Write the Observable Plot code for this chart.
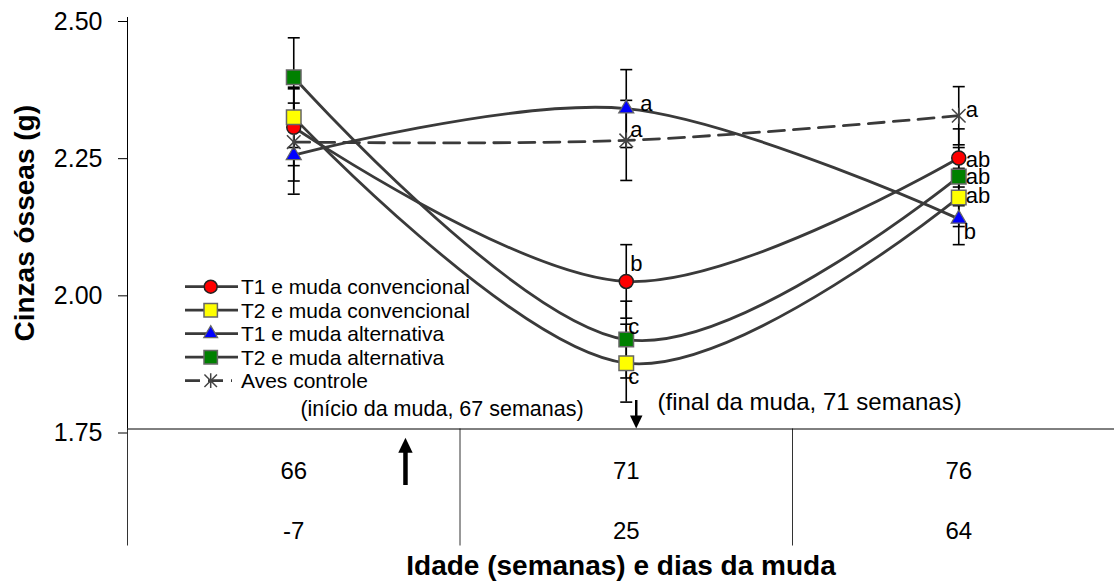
<!DOCTYPE html>
<html><head><meta charset="utf-8">
<script src="https://cdn.jsdelivr.net/npm/d3@7"></script>
<script src="https://cdn.jsdelivr.net/npm/@observablehq/plot@0.6"></script>
<style>
body{margin:0;background:#fff;}
#chart{position:relative;width:1114px;height:583px;}
</style>
</head><body><div id="chart"></div>
<script>
// ---- data ----
const groups = [0, 1, 2];
const weeks = ["66", "71", "76"];
const days = ["-7", "25", "64"];
const seriesNames = ["T1 e muda convencional", "T2 e muda convencional", "T1 e muda alternativa", "T2 e muda alternativa", "Aves controle"];
const t1conv   = [2.300, 2.019, 2.244];
const t2conv   = [2.318, 1.870, 2.172];
const t1alt    = [2.249, 2.334, 2.133];
const t2alt    = [2.391, 1.913, 2.210];
const controle = [2.273, 2.276, 2.321];
const errT1conv   = [0.070, 0.067, 0.053];
const errT2conv   = [0.055, 0.071, 0.053];
const errT1alt    = [0.071, 0.071, 0.047];
const errT2alt    = [0.072, 0.070, 0.053];
const errControle = [0.071, 0.073, 0.053];
const lettersT1conv   = ["", "b", "ab"];
const lettersT2conv   = ["", "c", "ab"];
const lettersT1alt    = ["", "a", "b"];
const lettersT2alt    = ["", "c", "ab"];
const lettersControle = ["", "a", "a"];
const yTicks = [1.75, 2.00, 2.25, 2.50];
const yLabel = "Cinzas ósseas (g)";
const xLabel = "Idade (semanas) e dias da muda";
const noteStart = "(início da muda, 67 semanas)";
const noteEnd = "(final da muda, 71 semanas)";

// ---- layout / style ----
const FONT = "'Liberation Sans', Arial, Helvetica, sans-serif";
const LINE = "#3a3a3a";
const starSymbol = {draw(ctx, size) { const r = Math.sqrt(size / Math.PI), d = r * 0.85;
  ctx.moveTo(-d, -d); ctx.lineTo(d, d); ctx.moveTo(-d, d); ctx.lineTo(d, -d); ctx.moveTo(0, -r); ctx.lineTo(0, r); }};
const capSymbol = {draw(ctx, size) { const r = Math.sqrt(size / Math.PI); ctx.moveTo(-r, 0); ctx.lineTo(r, 0); }};
const headSymbol = {draw(ctx, size) { const r = Math.sqrt(size / Math.PI);
  ctx.moveTo(0, 0); ctx.lineTo(-r * 0.48, -r); ctx.lineTo(r * 0.48, -r); ctx.closePath(); }};

const seriesDefs = [
  {name: seriesNames[0], vals: t1conv, err: errT1conv, letters: lettersT1conv, symbol: "circle", r: 7, fill: "#ff0000", stroke: "#222", sw: 1.5},
  {name: seriesNames[1], vals: t2conv, err: errT2conv, letters: lettersT2conv, symbol: "square", r: 8.2, fill: "#ffff00", stroke: "#666", sw: 1.5},
  {name: seriesNames[2], vals: t1alt, err: errT1alt, letters: lettersT1alt, symbol: "triangle", r: 5.6, fill: "#0000ff", stroke: "#666", sw: 1.2},
  {name: seriesNames[3], vals: t2alt, err: errT2alt, letters: lettersT2alt, symbol: "square", r: 8.2, fill: "#008000", stroke: "#666", sw: 1.5},
  {name: seriesNames[4], vals: controle, err: errControle, letters: lettersControle, symbol: starSymbol, r: 8, fill: "none", stroke: "#444", sw: 1.5, dashed: true}
];
// letter offsets [series][group] in px (dx, dy to baseline)
const letterOffsets = [
  [null, [4, -10.7], [7, 9.4]],
  [null, [2, 21.3], [7, 6]],
  [null, [14, 2.7], [5, 20]],
  [null, [2, -5.7], [7, 7.3]],
  [null, [4, -3.3], [7, 1.7]]
];
// annotation anchors (data units)
const noteStartPos = {x: 0.02, y: 1.7855};
const noteEndPos = {x: 1.094, y: 1.798};
const arrowDown = {x: 1.03, y1: 1.802, y2: 1.751};
const arrowUp = {x: 0.336, y1: 1.647, y2: 1.734};

const rows = [];
seriesDefs.forEach((s, si) => groups.forEach(g => rows.push({series: s.name, si, x: g, y: s.vals[g], err: s.err[g]})));
const caps = rows.flatMap(d => [{x: d.x, y: d.y - d.err}, {x: d.x, y: d.y + d.err}]);

const letterMarks = [];
seriesDefs.forEach((s, si) => groups.forEach(g => {
  if (!s.letters[g]) return;
  const [dx, dy] = letterOffsets[si][g];
  letterMarks.push(Plot.text([{x: g, y: s.vals[g], t: s.letters[g]}], {
    x: "x", y: "y", text: "t", dx, dy, textAnchor: "start", lineAnchor: "bottom", fontSize: 22, fill: "#000"
  }));
}));

const chart = Plot.plot({
  width: 1114, height: 583,
  marginTop: 17, marginBottom: 154.5, marginLeft: 127, marginRight: 0,
  x: {domain: [-0.5, 2.5], range: [127, 1124.5]},
  y: {domain: [1.75, 2.5]},
  style: {fontFamily: FONT, background: "#fff", color: "#000", overflow: "visible"},
  marks: [
    Plot.axisY({ticks: yTicks, tickFormat: d3.format(".2f"), tickSize: 9, tickPadding: 16, fontSize: 25, dy: 4, label: null}),
    Plot.axisX({ticks: [-0.5, 0.5, 1.5], tickSize: 117, tickFormat: () => "", label: null, stroke: "#333"}),
    Plot.axisX({ticks: groups, tickSize: 0, tickPadding: 33, tickFormat: i => weeks[i], fontSize: 24, label: null}),
    Plot.axisX({ticks: groups, tickSize: 0, tickPadding: 93, tickFormat: i => days[i], fontSize: 24, label: null}),
    Plot.ruleX([-0.5], {stroke: "#000", strokeWidth: 1}),
    Plot.ruleY([1.75], {stroke: "#000", strokeWidth: 1}),
    Plot.text([yLabel], {frameAnchor: "left", dx: -102, rotate: -90, fontSize: 28, fontWeight: "bold", textAnchor: "middle", fill: "#000"}),
    Plot.text([xLabel], {frameAnchor: "bottom", lineAnchor: "bottom", dy: 146, fontSize: 28, fontWeight: "bold", textAnchor: "middle", fill: "#000"}),
    // error bars
    Plot.ruleX(rows, {x: "x", y1: d => d.y - d.err, y2: d => d.y + d.err, stroke: "#000", strokeWidth: 1.6}),
    Plot.dot(caps, {x: "x", y: "y", symbol: capSymbol, r: 6, stroke: "#000", strokeWidth: 1.6, fill: "none"}),
    // lines
    Plot.line(rows.filter(d => !seriesDefs[d.si].dashed), {x: "x", y: "y", z: "series", curve: "cardinal", stroke: LINE, strokeWidth: 2.8}),
    Plot.line(rows.filter(d => seriesDefs[d.si].dashed), {x: "x", y: "y", z: "series", curve: "cardinal", stroke: LINE, strokeWidth: 2.8, strokeDasharray: "16,9"}),
    // markers
    ...seriesDefs.map((s, si) => Plot.dot(rows.filter(d => d.si === si), {
      x: "x", y: "y", symbol: s.symbol, r: s.r, fill: s.fill, stroke: s.stroke, strokeWidth: s.sw
    })),
    ...letterMarks,
    // annotations
    Plot.text([noteStartPos], {x: "x", y: "y", text: () => noteStart, textAnchor: "start", fontSize: 21.5, fill: "#000"}),
    Plot.text([noteEndPos], {x: "x", y: "y", text: () => noteEnd, textAnchor: "start", fontSize: 24, fill: "#000"}),
    Plot.ruleX([arrowDown], {x: "x", y1: "y1", y2: d => d.y2 + 0.015, stroke: "#000", strokeWidth: 2.5}),
    Plot.dot([arrowDown], {x: "x", y: "y2", symbol: headSymbol, r: 13, fill: "#000", stroke: "none"}),
    Plot.ruleX([arrowUp], {x: "x", y1: "y1", y2: d => d.y2 - 0.02, stroke: "#000", strokeWidth: 4.5}),
    Plot.dot([arrowUp], {x: "x", y: "y2", symbol: headSymbol, r: 15, rotate: 180, fill: "#000", stroke: "none"})
  ]
});

// legend (inside plot area)
const svg = d3.select(chart);
const lg = svg.append("g").attr("font-family", FONT).attr("font-size", 21).attr("text-anchor", "start");
seriesDefs.forEach((s, i) => {
  const y = 286.7 + i * 23.5;
  const ln = lg.append("line").attr("x1", 185).attr("x2", 238).attr("y1", y).attr("y2", y)
    .attr("stroke", LINE).attr("stroke-width", 2.8);
  if (s.dashed) ln.attr("x2", 232).attr("stroke-dasharray", "15,8");
  const sym = typeof s.symbol === "string" ? d3["symbol" + s.symbol[0].toUpperCase() + s.symbol.slice(1)] : s.symbol;
  lg.append("path").attr("d", d3.symbol(sym, s.r * s.r * Math.PI * 0.85)())
    .attr("transform", `translate(210.7,${y})`)
    .attr("fill", s.fill).attr("stroke", s.stroke).attr("stroke-width", s.sw);
  lg.append("text").attr("x", 241).attr("y", y).attr("dy", "0.35em").attr("text-anchor", "start").attr("fill", "#000").text(s.name);
});

document.getElementById("chart").appendChild(chart);
</script>
</body></html>
